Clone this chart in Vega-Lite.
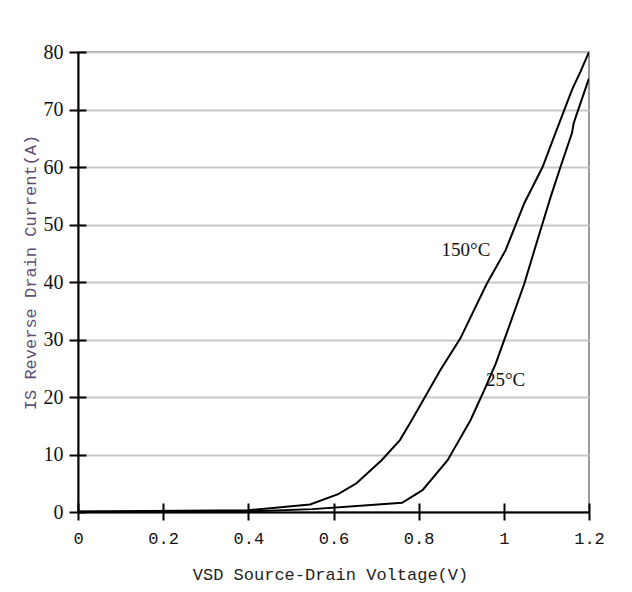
{
  "$schema": "https://vega.github.io/schema/vega-lite/v6.json",
  "width": 511,
  "height": 460,
  "autosize": {"type": "none"},
  "padding": {"left": 78, "top": 52, "right": 43, "bottom": 80},
  "background": "white",
  "config": {
    "view": {"stroke": "#9a9a9a", "strokeWidth": 2},
    "axis": {
      "domainColor": "black",
      "domainWidth": 2,
      "tickColor": "black",
      "tickWidth": 2,
      "labelColor": "#111",
      "titleFontWeight": "normal",
      "labelFontWeight": "normal"
    }
  },
  "datasets": {
    "curves": [
      {"T": "150", "v": 0, "i": 0.1},
      {"T": "150", "v": 0.4, "i": 0.3},
      {"T": "150", "v": 0.545, "i": 1.3},
      {"T": "150", "v": 0.611, "i": 3.1},
      {"T": "150", "v": 0.654, "i": 5.0},
      {"T": "150", "v": 0.713, "i": 9.0},
      {"T": "150", "v": 0.756, "i": 12.5},
      {"T": "150", "v": 0.784, "i": 16.0},
      {"T": "150", "v": 0.851, "i": 24.7},
      {"T": "150", "v": 0.898, "i": 30.2},
      {"T": "150", "v": 0.937, "i": 36.2},
      {"T": "150", "v": 0.96, "i": 39.7},
      {"T": "150", "v": 1.004, "i": 45.5},
      {"T": "150", "v": 1.032, "i": 50.7},
      {"T": "150", "v": 1.048, "i": 53.7},
      {"T": "150", "v": 1.091, "i": 60.0},
      {"T": "150", "v": 1.118, "i": 65.3},
      {"T": "150", "v": 1.145, "i": 70.5},
      {"T": "150", "v": 1.16, "i": 73.4},
      {"T": "150", "v": 1.18, "i": 76.6},
      {"T": "150", "v": 1.2, "i": 80},
      {"T": "25", "v": 0, "i": 0.05},
      {"T": "25", "v": 0.4, "i": 0.1},
      {"T": "25", "v": 0.55, "i": 0.5},
      {"T": "25", "v": 0.761, "i": 1.6},
      {"T": "25", "v": 0.809, "i": 3.8},
      {"T": "25", "v": 0.868, "i": 9.0},
      {"T": "25", "v": 0.895, "i": 12.5},
      {"T": "25", "v": 0.922, "i": 16.0},
      {"T": "25", "v": 0.954, "i": 21.2},
      {"T": "25", "v": 0.981, "i": 25.8},
      {"T": "25", "v": 1.012, "i": 32.2},
      {"T": "25", "v": 1.048, "i": 39.7},
      {"T": "25", "v": 1.079, "i": 47.3},
      {"T": "25", "v": 1.11, "i": 54.8},
      {"T": "25", "v": 1.133, "i": 60.0},
      {"T": "25", "v": 1.16, "i": 65.9},
      {"T": "25", "v": 1.164, "i": 67.6},
      {"T": "25", "v": 1.18, "i": 71.1},
      {"T": "25", "v": 1.2, "i": 75.4}
    ],
    "labels": [
      {"v": 0.911, "i": 45.5, "text": "150°C"},
      {"v": 1.004, "i": 22.9, "text": "25°C"}
    ]
  },
  "layer": [
    {
      "data": {"name": "curves"},
      "mark": {"type": "line", "color": "black", "strokeWidth": 2, "clip": true},
      "encoding": {
        "x": {
          "field": "v", "type": "quantitative",
          "scale": {"domain": [0, 1.2], "nice": false, "zero": false},
          "axis": {
            "values": [0, 0.2, 0.4, 0.6, 0.8, 1, 1.2],
            "labelExpr": "datum.value == 0 || datum.value == 1 ? format(datum.value, 'd') : format(datum.value, '.1f')",
            "grid": false,
            "tickSize": 8,
            "labelPadding": 10,
            "labelFont": "Liberation Mono",
            "labelFontSize": 17,
            "labelFlush": false,
            "title": "VSD Source-Drain Voltage(V)",
            "titleFont": "Liberation Mono",
            "titleFontSize": 17,
            "titleColor": "#222",
            "titleX": 252,
            "titleY": 62,
            "titleBaseline": "middle",
            "titleAlign": "center"
          }
        },
        "y": {
          "field": "i", "type": "quantitative",
          "scale": {"domain": [0, 80], "nice": false},
          "axis": {
            "values": [0, 10, 20, 30, 40, 50, 60, 70, 80],
            "grid": true,
            "gridColor": "#c8c8c8",
            "gridWidth": 2,
            "tickSize": 9,
            "labelPadding": 6,
            "labelFont": "Liberation Serif",
            "labelFontSize": 20,
            "labelFlush": false,
            "title": "IS Reverse Drain Current(A)",
            "titleFont": "Liberation Mono",
            "titleFontSize": 17,
            "titleColor": "#5e4e70",
            "titleAngle": -90,
            "titleX": -48,
            "titleY": 220,
            "titleBaseline": "middle",
            "titleAlign": "center"
          }
        },
        "detail": {"field": "T", "type": "nominal"}
      }
    },
    {
      "data": {"name": "labels"},
      "mark": {"type": "text", "font": "Liberation Serif", "fontSize": 19, "color": "#111", "align": "center", "baseline": "middle"},
      "encoding": {
        "x": {
          "field": "v", "type": "quantitative",
          "axis": {"orient": "bottom", "values": [0, 0.2, 0.4, 0.6, 0.8, 1, 1.2], "tickSize": -9, "labels": false, "domain": false, "grid": false, "title": null}
        },
        "y": {
          "field": "i", "type": "quantitative",
          "axis": {"orient": "left", "values": [0, 10, 20, 30, 40, 50, 60, 70, 80], "tickSize": -8, "labels": false, "domain": false, "grid": false, "title": null}
        },
        "text": {"field": "text", "type": "nominal"}
      }
    }
  ],
  "resolve": {"axis": {"x": "independent", "y": "independent"}}
}
